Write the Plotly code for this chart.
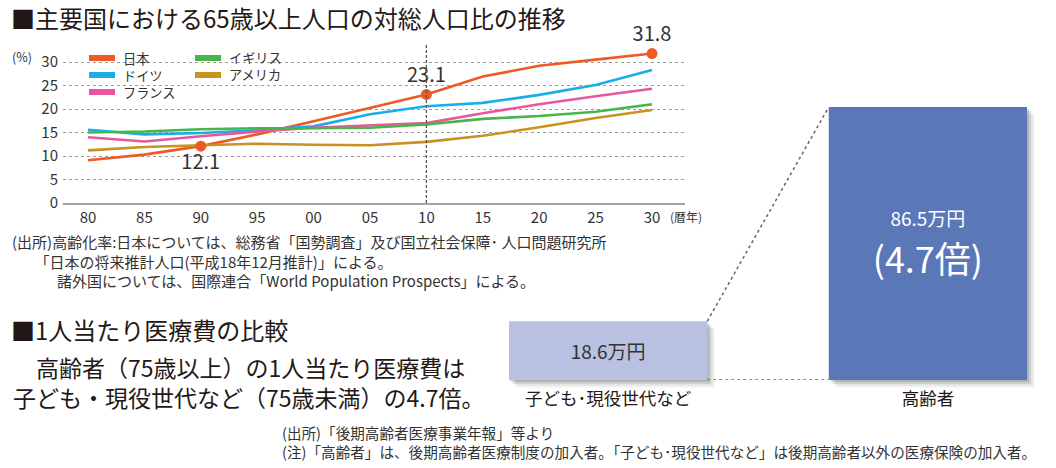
import plotly.graph_objects as go

W, H = 1056, 468
FONT = "Noto Sans CJK JP"
DARK = "#231815"
TXT = "#333333"

# ---------------- data ----------------
years = [1980, 1985, 1990, 1995, 2000, 2005, 2010, 2015, 2020, 2025, 2030]
year_labels = ["80", "85", "90", "95", "00", "05", "10", "15", "20", "25", "30"]
japan = [9.1, 10.3, 12.1, 14.6, 17.4, 20.2, 23.1, 26.9, 29.2, 30.5, 31.8]
germany = [15.6, 14.6, 14.9, 15.5, 16.3, 18.9, 20.6, 21.3, 23.0, 25.1, 28.3]
france = [14.0, 13.1, 14.2, 15.2, 16.0, 16.5, 17.0, 19.1, 21.0, 22.7, 24.3]
uk = [15.0, 15.2, 15.7, 15.9, 15.9, 16.0, 16.7, 17.9, 18.5, 19.4, 21.0]
usa = [11.2, 11.9, 12.3, 12.6, 12.4, 12.3, 13.0, 14.3, 16.1, 18.1, 19.8]
highlight_idx = [2, 6, 10]
y_ticks = [0, 5, 10, 15, 20, 25, 30]

series_names = ["日本", "ドイツ", "フランス", "イギリス", "アメリカ"]
series_values = [japan, germany, france, uk, usa]
series_colors = ["#ee5a24", "#19aee8", "#e8579c", "#45b649", "#c8921c"]

cost_categories = ["子ども･現役世代など", "高齢者"]
cost_values = [18.6, 86.5]
cost_text = ["18.6万円", "86.5万円"]
ratio_text = "(4.7倍)"
bar_colors = ["#b8c1e1", "#5a77b8"]

source_lines = [
    "(出所)高齢化率:日本については、総務省「国勢調査」及び国立社会保障･ 人口問題研究所",
    "\u3000\u3000「日本の将来推計人口(平成18年12月推計)」による。",
    "\u3000\u3000\u3000諸外国については、国際連合「World Population Prospects」による。",
]
body_lines = [
    "\u3000高齢者（75歳以上）の1人当たり医療費は",
    "子ども・現役世代など（75歳未満）の4.7倍。",
]
note_lines = [
    "(出所)「後期高齢者医療事業年報」等より",
    "(注)「高齢者」は、後期高齢者医療制度の加入者。「子ども･現役世代など」は後期高齢者以外の医療保険の加入者。",
]

# ---------------- layout constants ----------------
legend_col = [0, 0, 0, 1, 1]
legend_row = [0, 1, 2, 0, 1]
legend_col_x = [89, 195]
legend_row_y = [58, 75, 92]
LEG_FS = 13.2


def py(p):  # pixel y -> paper y
    return 1 - p / H


def px(p):
    return p / W


ppy = 11.28          # px per year
ppu = 4.7            # px per percent
y0px = 203
xr = [1980 - 25 / ppy, 2030 + 33 / ppy]
ytop = 33.6
x_dom = [px(63), px(685)]
y_dom = [py(y0px), py(y0px - ytop * ppu)]

bx_dom = [px(509), px(1027)]
bx_rng = [-0.31, 1.31]
by_dom = [py(380), py(107)]
by_rng = [0, max(cost_values)]
bw = 0.62

fig = go.Figure()

# line traces
for name, vals, col in zip(series_names, series_values, series_colors):
    fig.add_trace(go.Scatter(x=years, y=vals, mode="lines", name=name,
                             line=dict(color=col, width=2.6), showlegend=False,
                             hoverinfo="skip"))

# highlighted Japan points
hx = [years[i] for i in highlight_idx]
hy = [japan[i] for i in highlight_idx]
fig.add_trace(go.Scatter(x=hx, y=hy, mode="markers+text",
                         text=[f"{v}" for v in hy],
                         textposition=["bottom center", "top center", "top center"],
                         textfont=dict(family=FONT, size=20, color=TXT),
                         marker=dict(color=series_colors[0], size=11),
                         showlegend=False, cliponaxis=False, hoverinfo="skip"))

# bars
fig.add_trace(go.Bar(x=cost_categories, y=cost_values, width=bw,
                     marker=dict(color=bar_colors, line=dict(width=0)),
                     text=[cost_text[0],
                           "<span style='font-size:19px'>" + cost_text[1] + "</span><br>" + ratio_text],
                     textposition="inside", insidetextanchor="middle",
                     constraintext="none", textangle=0,
                     textfont=dict(family=FONT, size=[19, 36], color=[TXT, "white"]),
                     xaxis="x2", yaxis="y2", showlegend=False, hoverinfo="skip"))

shapes = []
annotations = []
# white backdrop behind legend
shapes.append(dict(type="rect", xref="paper", yref="paper", x0=px(82), x1=px(297),
                   y0=py(100), y1=py(49), fillcolor="white", line=dict(width=0),
                   layer="between"))
# legend swatches
for col, c, r in zip(series_colors, legend_col, legend_row):
    xs = legend_col_x[c]
    yy = legend_row_y[r]
    shapes.append(dict(type="line", xref="paper", yref="paper",
                       x0=px(xs), x1=px(xs + 26), y0=py(yy), y1=py(yy),
                       line=dict(color=col, width=6)))
# legend names: one multi-line text per column
for c, xs in enumerate(legend_col_x):
    names = [n for n, cc in zip(series_names, legend_col) if cc == c]
    rows = [legend_row_y[r] for r, cc in zip(legend_row, legend_col) if cc == c]
    annotations.append(dict(text="<br>".join(names), x=px(xs + 33),
                            y=py(sum(rows) / len(rows)), xref="paper", yref="paper",
                            xanchor="left", yanchor="middle", align="left",
                            showarrow=False, borderpad=0,
                            font=dict(family=FONT, size=LEG_FS, color=TXT)))

# vertical dashed line at 2010
shapes.append(dict(type="line", xref="x", yref="y", x0=years[6], x1=years[6],
                   y0=0, y1=ytop, line=dict(color="#555555", width=1.3, dash="3px,2px")))


# bar shadows (paper coords derived from data)
def bxp(x):
    return bx_dom[0] + (x - bx_rng[0]) / (bx_rng[1] - bx_rng[0]) * (bx_dom[1] - bx_dom[0])


def byp(y):
    return by_dom[0] + (y - by_rng[0]) / (by_rng[1] - by_rng[0]) * (by_dom[1] - by_dom[0])


for i, v in enumerate(cost_values):
    for k, op in [(2, 0.22), (4, 0.16), (6, 0.10), (8, 0.05)]:
        shapes.append(dict(type="rect", xref="paper", yref="paper",
                           x0=bxp(i - bw / 2) + k / W, x1=bxp(i + bw / 2) + k / W,
                           y0=byp(0) - k / H, y1=byp(v) - k / H,
                           fillcolor="#555555", opacity=op, line=dict(width=0),
                           layer="below"))
# connectors
shapes.append(dict(type="line", xref="x2", yref="y2", x0=0 + bw / 2, x1=1 - bw / 2,
                   y0=cost_values[0], y1=cost_values[1],
                   line=dict(color="#666666", width=1.5, dash="3px,3px")))
shapes.append(dict(type="line", xref="x2", yref="y2", x0=0 + bw / 2, x1=1 - bw / 2,
                   y0=0, y1=0, line=dict(color="#666666", width=1.5, dash="3px,3px")))


def ann(text, x, y, size, color=TXT, xanchor="left"):
    return dict(text=text, x=px(x), y=py(y), xref="paper", yref="paper",
                xanchor=xanchor, yanchor="middle", align="left",
                showarrow=False, borderpad=0,
                font=dict(family=FONT, size=size, color=color))


annotations += [
    ann("■主要国における65歳以上人口の対総人口比の推移", 10, 18, 24, DARK),
    ann("(%)", 11, 56, 12.5),
    ann("(暦年)", 669, 216, 12),
    ann("<br>".join(source_lines), 11, 261, 15.0),
    ann("■1人当たり医療費の比較", 10, 329.5, 24, DARK),
    ann("<br>".join(body_lines), 12, 382, 23, DARK),
    ann("<br>".join(note_lines), 281, 441.5, 14.6, TXT),
]

fig.update_layout(
    width=W, height=H, margin=dict(l=0, r=0, t=0, b=0, autoexpand=False),
    paper_bgcolor="white", plot_bgcolor="rgba(0,0,0,0)",
    font=dict(family=FONT, color=TXT),
    showlegend=False,
    shapes=shapes, annotations=annotations,
    xaxis=dict(domain=x_dom, range=xr, tickvals=years, ticktext=year_labels,
               showgrid=False, zeroline=False, showline=True, automargin=False,
               linecolor="#a3a3a3", linewidth=1.5, ticks="",
               tickfont=dict(family=FONT, size=15, color=TXT)),
    yaxis=dict(domain=y_dom, range=[0, ytop], tickvals=y_ticks, automargin=False,
               showgrid=True, gridcolor="#9c9c9c", gridwidth=1.3, griddash="dot",
               zeroline=False, showline=False, ticks="", ticklabelstandoff=4,
               tickfont=dict(family=FONT, size=15, color=TXT)),
    xaxis2=dict(domain=bx_dom, range=bx_rng, anchor="y2", showgrid=False,
                zeroline=False, showline=False, ticks="", automargin=False,
                ticklabelstandoff=6,
                tickfont=dict(family=FONT, size=17.5, color=DARK)),
    yaxis2=dict(domain=by_dom, range=by_rng, anchor="x2", visible=False, automargin=False),
)

fig.write_html("out.html")
